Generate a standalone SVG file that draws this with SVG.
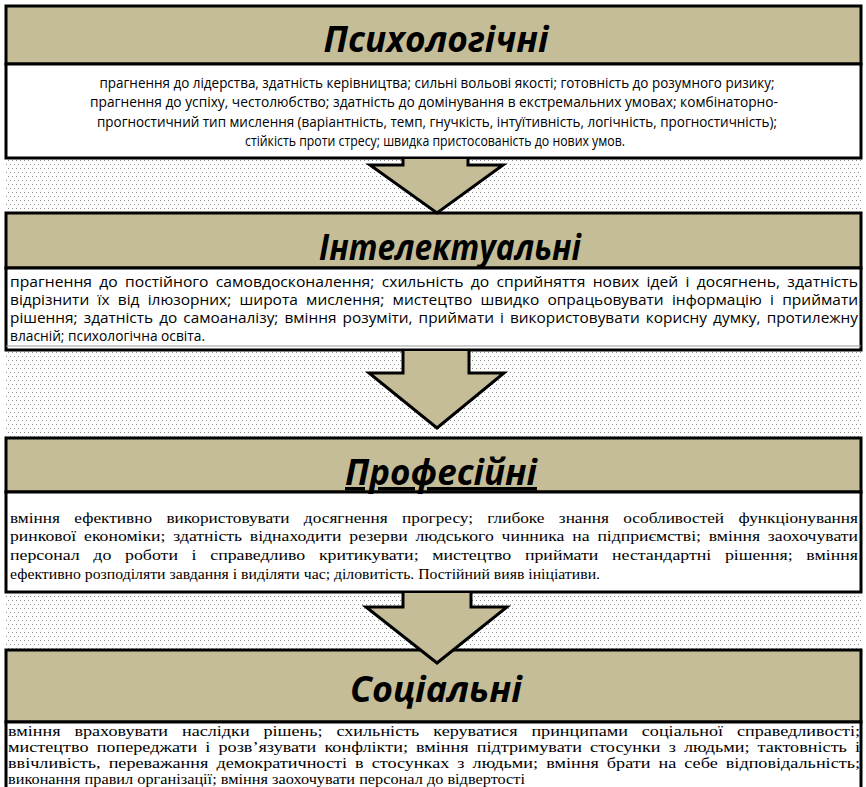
<svg xmlns="http://www.w3.org/2000/svg" width="866" height="787" viewBox="0 0 866 787">
<style>
.hdr{fill:#C4BD97;stroke:#000;stroke-width:3}
.body{fill:#fff;stroke:#000;stroke-width:3}
.title{font-family:"Open Sans","Noto Sans",sans-serif;font-weight:bold;font-style:italic;font-size:35px;text-anchor:middle;fill:#000}
.cal{font-family:"Open Sans","Noto Sans",sans-serif;font-size:14.5px;fill:#000}
.tnr{font-family:"Liberation Serif","Times New Roman",serif;font-size:15.5px;fill:#000}
.arrow{fill:#C4BD97;stroke:#000;stroke-width:3;stroke-linejoin:miter}
</style>
<defs>
<pattern id="dots" width="4" height="8" patternUnits="userSpaceOnUse">
<rect x="0" y="0" width="4" height="8" fill="#fff"/>
<rect x="0" y="0" width="1" height="1" fill="#8a8a8a"/>
<rect x="2" y="4" width="1" height="1" fill="#8a8a8a"/>
</pattern>
</defs>
<rect x="0" y="0" width="866" height="787" fill="#fff"/>
<g id="background">
<rect x="6" y="158" width="855" height="55" fill="url(#dots)"/>
<rect x="6" y="350" width="855" height="88" fill="url(#dots)"/>
<rect x="6" y="592" width="855" height="58" fill="url(#dots)"/>
</g>
<g id="psych">
<rect class="hdr" x="6" y="6" width="855" height="58"/>
<rect class="body" x="6" y="64" width="855" height="94"/>
<text class="title" x="436" y="52" textLength="225" lengthAdjust="spacingAndGlyphs">Психологічні</text>
<text class="cal" x="437" y="88" text-anchor="middle" textLength="675" lengthAdjust="spacingAndGlyphs">прагнення до лідерства, здатність керівництва; сильні вольові якості; готовність до розумного ризику;</text>
<text class="cal" x="434" y="107" text-anchor="middle" textLength="688" lengthAdjust="spacingAndGlyphs">прагнення до успіху, честолюбство; здатність до домінування в екстремальних умовах; комбінаторно-</text>
<text class="cal" x="437" y="127" text-anchor="middle" textLength="680" lengthAdjust="spacingAndGlyphs">прогностичний тип мислення (варіантність, темп, гнучкість, інтуїтивність, логічність, прогностичність);</text>
<text class="cal" x="435" y="146" text-anchor="middle" textLength="380" lengthAdjust="spacingAndGlyphs">стійкість проти стресу; швидка пристосованість до нових умов.</text>
</g>
<g id="intel">
<rect class="hdr" x="6" y="213" width="855" height="55"/>
<rect class="body" x="6" y="268" width="855" height="82"/>
<line x1="6" y1="346" x2="861" y2="346" stroke="#999" stroke-width="1"/>
<text class="title" x="450" y="260" textLength="262" lengthAdjust="spacingAndGlyphs">Інтелектуальні</text>
<text class="cal" x="10" y="287" word-spacing="3" textLength="848" lengthAdjust="spacingAndGlyphs">прагнення до постійного самовдосконалення; схильність до сприйняття нових ідей і досягнень, здатність</text>
<text class="cal" x="10" y="305" word-spacing="4" textLength="848" lengthAdjust="spacingAndGlyphs">відрізнити їх від ілюзорних; широта мислення; мистецтво швидко опрацьовувати інформацію і приймати</text>
<text class="cal" x="10" y="323" word-spacing="2" textLength="848" lengthAdjust="spacingAndGlyphs">рішення; здатність до самоаналізу; вміння розуміти, приймати і використовувати корисну думку, протилежну</text>
<text class="cal" x="10" y="341" textLength="195" lengthAdjust="spacingAndGlyphs">власній; психологічна освіта.</text>
</g>
<g id="prof">
<rect class="hdr" x="6" y="438" width="855" height="54"/>
<rect class="body" x="6" y="492" width="855" height="100"/>
<text class="title" x="441" y="485" textLength="192" lengthAdjust="spacingAndGlyphs" text-decoration="underline">Професійні</text>
<text class="tnr" x="10" y="523" word-spacing="9" textLength="848" lengthAdjust="spacingAndGlyphs">вміння ефективно використовувати досягнення прогресу; глибоке знання особливостей функціонування</text>
<text class="tnr" x="10" y="541" word-spacing="3" textLength="848" lengthAdjust="spacingAndGlyphs">ринкової економіки; здатність віднаходити резерви людського чинника на підприємстві; вміння заохочувати</text>
<text class="tnr" x="10" y="560" word-spacing="8" textLength="848" lengthAdjust="spacingAndGlyphs">персонал до роботи і справедливо критикувати; мистецтво приймати нестандартні рішення; вміння</text>
<text class="tnr" x="10" y="579" textLength="590" lengthAdjust="spacingAndGlyphs">ефективно розподіляти завдання і виділяти час; діловитість. Постійний вияв ініціативи.</text>
</g>
<g id="social">
<rect class="hdr" x="6" y="650" width="855" height="72"/>
<rect class="body" x="6" y="722" width="855" height="70"/>
<text class="title" x="436" y="702" textLength="172" lengthAdjust="spacingAndGlyphs">Соціальні</text>
<text class="tnr" x="8" y="736" word-spacing="8" textLength="852" lengthAdjust="spacingAndGlyphs">вміння враховувати наслідки рішень; схильність керуватися принципами соціальної справедливості;</text>
<text class="tnr" x="8" y="752" word-spacing="3" textLength="852" lengthAdjust="spacingAndGlyphs">мистецтво попереджати і розв’язувати конфлікти; вміння підтримувати стосунки з людьми; тактовність і</text>
<text class="tnr" x="8" y="768" word-spacing="3" textLength="852" lengthAdjust="spacingAndGlyphs">ввічливість, переважання демократичності в стосунках з людьми; вміння брати на себе відповідальність;</text>
<text class="tnr" x="8" y="784" textLength="517" lengthAdjust="spacingAndGlyphs">виконання правил організації; вміння заохочувати персонал до відвертості</text>
</g>
<g id="connectors">
<path class="arrow" d="M403,159 V165 H370 L437,213 L503,165 H468 V159"/>
<path class="arrow" d="M403,351 V373 H369 L437,428 L504,373 H469 V351"/>
<path class="arrow" d="M403,593 V607 H366 L437,663 L507,607 H471 V593"/>
</g>
</svg>
